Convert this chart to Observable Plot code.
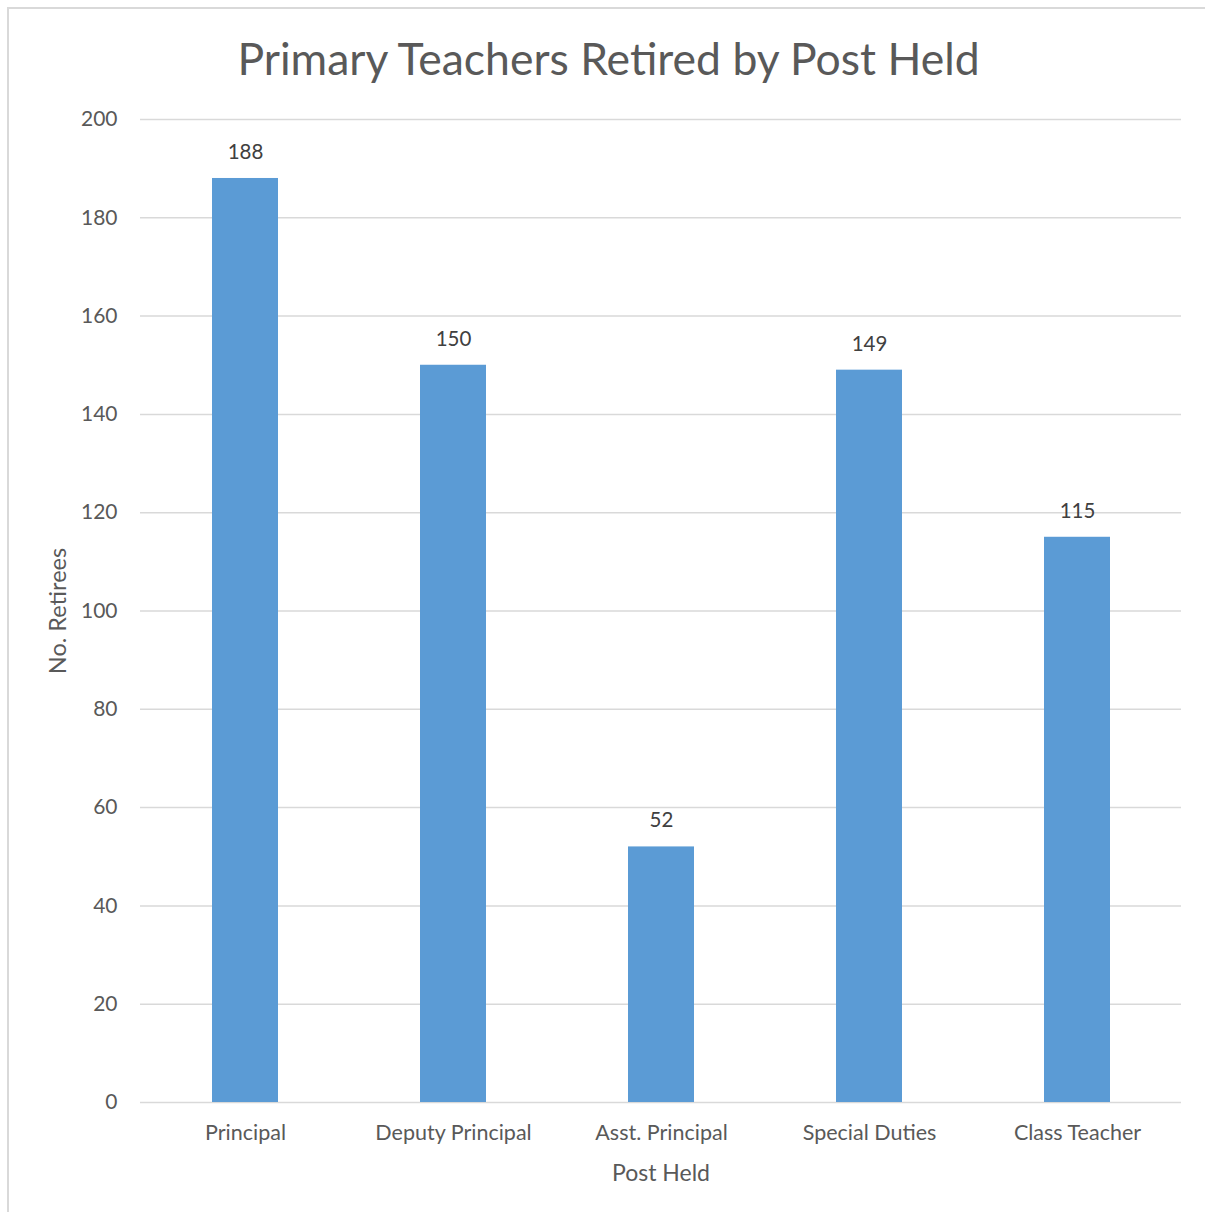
<!DOCTYPE html>
<html>
<head>
<meta charset="utf-8">
<script src="https://cdn.jsdelivr.net/npm/d3@7"></script>
<script src="https://cdn.jsdelivr.net/npm/@observablehq/plot@0.6"></script>
<style>
  html, body { margin: 0; padding: 0; background: #fff; }
  #wrap { position: relative; width: 1205px; height: 1212px; overflow: hidden; font-family: Lato, "Open Sans", sans-serif; }
  #frame { position: absolute; left: 7px; top: 7px; width: 1200px; height: 1210px; border: 2px solid #d9d9d9; box-sizing: border-box; }
  #title { position: absolute; left: 0; width: 1217px; top: 36px; text-align: center; font-size: 44.5px; color: #595959; line-height: 1; white-space: nowrap; }
  #chart { position: absolute; left: 0; top: 0; }
</style>
</head>
<body>
<div id="wrap">
  <div id="frame"></div>
  <div id="chart"></div>
  <div id="title">Primary Teachers Retired by Post Held</div>
</div>
<script>
const categories = ["Principal", "Deputy Principal", "Asst. Principal", "Special Duties", "Class Teacher"];
const retirees = [188, 150, 52, 149, 115];
const yTicks = [0, 20, 40, 60, 80, 100, 120, 140, 160, 180, 200];

const data = categories.map((c, i) => ({post: c, value: retirees[i]}));

const chart = Plot.plot({
  width: 1205,
  height: 1212,
  marginLeft: 140,
  marginRight: 24,
  marginTop: 119,
  marginBottom: 110,
  style: {fontFamily: "Lato, 'Open Sans', sans-serif", background: "transparent"},
  x: {domain: categories, paddingInner: 0.683, paddingOuter: 0.3415, label: null},
  y: {domain: [0, 200], ticks: yTicks, label: null},
  marks: [
    Plot.ruleY(yTicks, {stroke: "#d9d9d9", strokeWidth: 1.5}),
    Plot.barY(data, {x: "post", y: "value", fill: "#5B9BD5"}),
    Plot.text(data, {x: "post", y: "value", text: d => String(d.value), dy: -26, fontSize: 20.5, fill: "#404040"}),
    Plot.axisY(yTicks, {tickSize: 0, tickPadding: 23, fontSize: 21, color: "#595959", label: null}),
    Plot.axisX({tickSize: 0, tickPadding: 22, fontSize: 21.5, color: "#595959", label: null}),
    Plot.text(["Post Held"], {frameAnchor: "bottom", dy: 78, fontSize: 23, fill: "#595959"}),
    Plot.text(["No. Retirees"], {frameAnchor: "left", textAnchor: "middle", dx: -82, rotate: -90, fontSize: 23.5, fill: "#595959"})
  ]
});
document.getElementById("chart").appendChild(chart);
</script>
</body>
</html>
